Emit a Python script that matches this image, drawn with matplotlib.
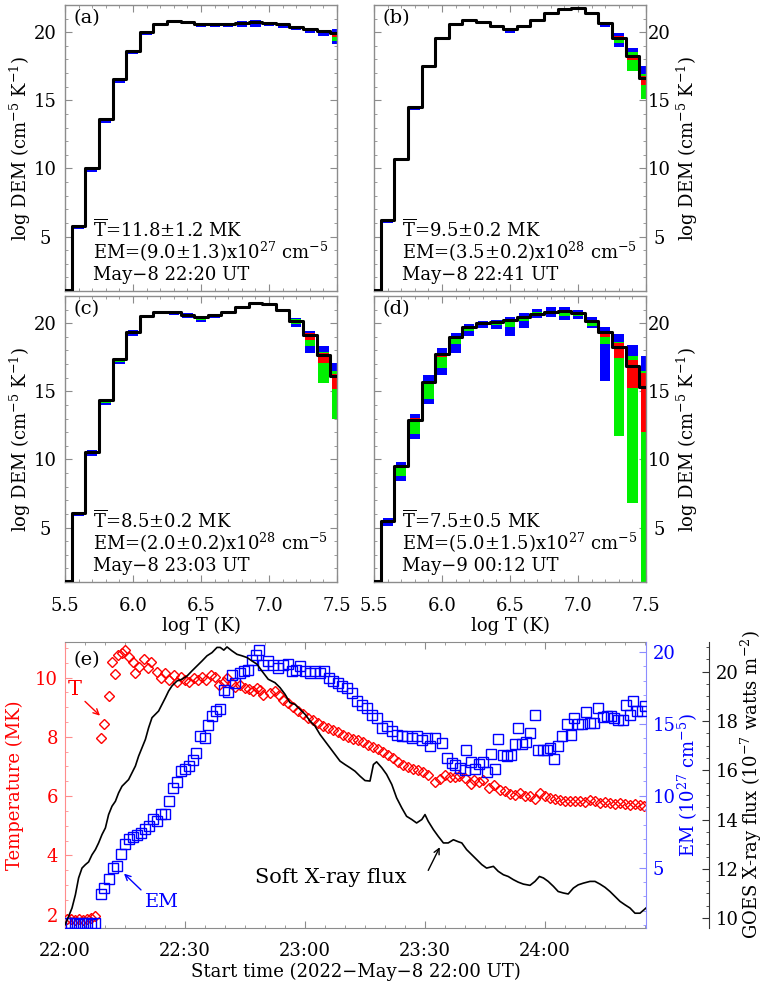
import numpy as np
import matplotlib
matplotlib.use('Agg')
import matplotlib.pyplot as plt
from matplotlib.ticker import MultipleLocator

plt.rcParams['font.family'] = ['DejaVu Serif']
plt.rcParams['mathtext.fontset'] = 'dejavuserif'

# ---------------- DEM panels (a)-(d) ----------------
logT = [5.5, 5.6, 5.7, 5.8, 5.9, 6.0, 6.1, 6.2, 6.3, 6.4, 6.5,
        6.6, 6.7, 6.8, 6.9, 7.0, 7.1, 7.2, 7.3, 7.4, 7.5]

# best-fit log DEM and the blue / green / red ranges (offsets from best fit)
dem_a = [1.05, 5.8, 10.0, 13.6, 16.6, 18.65, 20.0, 20.6, 20.8, 20.75, 20.62,
         20.57, 20.6, 20.66, 20.72, 20.68, 20.58, 20.38, 20.22, 20.12, 19.95]
blue_dn_a = [-0.3, -0.25, -0.25, -0.25, -0.3, -0.25, -0.2, -0.15, -0.15, -0.15, -0.2,
             -0.2, -0.25, -0.3, -0.3, -0.25, -0.25, -0.2, -0.25, -0.4, -0.85]
blue_up_a = [0.05, 0.05, 0.05, 0.05, 0.05, 0.05, 0.05, 0.05, 0.05, 0.05, 0.05,
             0.05, 0.1, 0.15, 0.15, 0.1, 0.05, 0.05, 0.05, 0.05, 0.3]
green_dn_a = [-0.1, -0.1, -0.1, -0.1, -0.1, -0.1, -0.1, -0.08, -0.08, -0.08, -0.1,
              -0.1, -0.12, -0.15, -0.15, -0.12, -0.1, -0.1, -0.12, -0.2, -0.6]
green_up_a = [0.0, 0.0, 0.0, 0.0, 0.0, 0.0, 0.0, 0.0, 0.0, 0.0, 0.0,
              0.0, 0.05, 0.05, 0.05, 0.05, 0.0, 0.0, 0.0, 0.0, 0.1]
red_dn_a = [-0.05, -0.05, -0.05, -0.05, -0.05, -0.05, -0.05, -0.05, -0.05, -0.05, -0.05,
            -0.05, -0.05, -0.05, -0.05, -0.05, -0.05, -0.05, -0.05, -0.08, -0.3]
red_up_a = [0.02, 0.02, 0.02, 0.02, 0.02, 0.02, 0.02, 0.02, 0.02, 0.02, 0.02,
            0.02, 0.02, 0.02, 0.02, 0.02, 0.02, 0.02, 0.02, 0.03, 0.1]

dem_b = [1.05, 6.19, 10.68, 14.51, 17.53, 19.58, 20.64, 20.89, 20.77, 20.49, 20.27,
         20.49, 20.89, 21.38, 21.68, 21.8, 21.43, 20.69, 19.6, 18.25, 16.61]
blue_dn_b = [-0.3, -0.2, -0.15, -0.2, -0.15, -0.15, -0.15, -0.15, -0.15, -0.2, -0.3,
             -0.2, -0.15, -0.15, -0.1, -0.1, -0.15, -0.34, -0.65, -0.25, 0.19]
blue_up_b = [0.05, 0.05, 0.05, 0.05, 0.05, 0.05, 0.05, 0.05, 0.05, 0.05, 0.05,
             0.05, 0.05, 0.05, 0.05, 0.05, 0.05, 0.06, 0.35, 0.6, 0.89]
green_dn_b = [-0.1, -0.1, -0.08, -0.1, -0.08, -0.08, -0.08, -0.08, -0.08, -0.1, -0.2,
              -0.1, -0.08, -0.08, -0.05, -0.05, -0.08, -0.19, -0.4, -1.1, -1.51]
green_up_b = [0.0, 0.0, 0.0, 0.0, 0.0, 0.0, 0.0, 0.0, 0.0, 0.0, 0.0,
              0.0, 0.0, 0.0, 0.0, 0.0, 0.0, 0.0, 0.05, 0.28, 0.29]
red_dn_b = [-0.05, -0.05, -0.05, -0.05, -0.05, -0.05, -0.05, -0.05, -0.05, -0.05, -0.05,
            -0.05, -0.05, -0.05, -0.05, -0.05, -0.05, -0.05, -0.1, -0.3, -0.46]
red_up_b = [0.02, 0.02, 0.02, 0.02, 0.02, 0.02, 0.02, 0.02, 0.02, 0.02, 0.02,
            0.02, 0.02, 0.02, 0.02, 0.02, 0.02, 0.02, 0.15, 0.1, 0.19]

dem_c = [1.05, 6.03, 10.57, 14.33, 17.34, 19.38, 20.54, 20.86, 20.79, 20.62, 20.47,
         20.62, 20.84, 21.2, 21.48, 21.4, 21.0, 20.15, 19.11, 17.7, 16.1]
blue_dn_c = [-0.3, -0.2, -0.3, -0.3, -0.3, -0.3, -0.15, -0.15, -0.15, -0.25, -0.35,
             -0.25, -0.15, -0.15, -0.15, -0.15, -0.15, -0.4, -1.31, -0.2, 0.3]
blue_up_c = [0.05, 0.05, 0.1, 0.1, 0.1, 0.1, 0.05, 0.05, 0.05, 0.1, 0.05,
             0.05, 0.05, 0.05, 0.05, 0.05, 0.05, 0.25, 0.34, 0.65, 0.96]
green_dn_c = [-0.1, -0.1, -0.15, -0.15, -0.15, -0.15, -0.08, -0.08, -0.08, -0.12, -0.2,
              -0.12, -0.08, -0.08, -0.08, -0.08, -0.08, -0.2, -0.81, -2.1, -3.1]
green_up_c = [0.0, 0.0, 0.0, 0.0, 0.0, 0.0, 0.0, 0.0, 0.0, 0.0, 0.0,
              0.0, 0.0, 0.0, 0.0, 0.0, 0.0, 0.15, -0.11, 0.2, 0.4]
red_dn_c = [-0.05, -0.05, -0.05, -0.05, -0.05, -0.05, -0.05, -0.05, -0.05, -0.05, -0.05,
            -0.05, -0.05, -0.05, -0.05, -0.05, -0.05, -0.05, -0.31, -0.65, -0.9]
red_up_c = [0.02, 0.02, 0.02, 0.02, 0.02, 0.02, 0.02, 0.02, 0.02, 0.02, 0.02,
            0.02, 0.02, 0.02, 0.02, 0.02, 0.02, 0.1, 0.14, 0.15, 0.2]

dem_d = [1.05, 5.49, 9.53, 12.87, 15.7, 17.71, 19.0, 19.75, 20.0, 20.12, 20.25,
         20.44, 20.69, 20.86, 20.93, 20.74, 20.17, 19.34, 18.28, 16.85, 15.33]
blue_dn_d = [-0.3, -0.39, -1.09, -1.4, -1.6, -1.52, -1.21, -0.68, -0.37, -0.56, -1.16,
             -0.81, -0.32, -0.37, -0.68, -0.44, -0.54, -3.57, -0.28, 0.74, 1.03]
blue_up_d = [0.05, 0.21, 0.27, 0.49, 0.49, 0.45, 0.31, 0.18, 0.2, 0.13, 0.24,
             0.3, 0.37, 0.3, 0.25, 0.24, 0.27, 0.41, 0.93, 1.55, 2.26]
green_dn_d = [-0.1, -0.19, -0.72, -0.97, -1.23, -1.03, -0.5, -0.35, -0.15, -0.22, -0.5,
              -0.24, -0.14, -0.16, -0.38, -0.19, -0.37, -0.84, -6.59, -10.08, -14.33]
green_up_d = [0.0, 0.06, -0.1, -0.12, -0.17, -0.17, -0.1, -0.05, 0.0, -0.02, -0.05,
              0.06, 0.11, 0.04, -0.03, 0.06, 0.08, -0.34, 0.32, 0.74, 1.17]
red_dn_d = [-0.05, -0.07, -0.1, -0.12, -0.17, -0.17, -0.1, -0.1, -0.05, -0.05, -0.1,
            -0.05, -0.05, -0.05, -0.05, -0.05, -0.05, -0.34, -0.86, -1.57, -3.33]
red_up_d = [0.02, 0.03, 0.02, 0.2, 0.07, 0.08, 0.05, 0.0, 0.02, 0.02, 0.0,
            0.02, 0.02, 0.02, 0.02, 0.02, 0.02, 0.06, 0.29, 0.45, 1.03]

text_a = [r'$\overline{\mathrm{T}}$=11.8±1.2 MK', r'EM=(9.0±1.3)x10$^{27}$ cm$^{-5}$', 'May−8 22:20 UT']
text_b = [r'$\overline{\mathrm{T}}$=9.5±0.2 MK', r'EM=(3.5±0.2)x10$^{28}$ cm$^{-5}$', 'May−8 22:41 UT']
text_c = [r'$\overline{\mathrm{T}}$=8.5±0.2 MK', r'EM=(2.0±0.2)x10$^{28}$ cm$^{-5}$', 'May−8 23:03 UT']
text_d = [r'$\overline{\mathrm{T}}$=7.5±0.5 MK', r'EM=(5.0±1.5)x10$^{27}$ cm$^{-5}$', 'May−9 00:12 UT']

# ---------------- panel (e) time series (minutes after 22:00 UT) ----------------
temp_t = [0.5, 1.5, 2.5, 3.5, 4.5, 5.5, 6.5, 7.5,
          9.0, 9.8, 10.9, 11.75, 12.6, 13.25, 14.25, 15.1, 15.9, 16.9,
          17.6, 18.6, 19.7, 20.75, 21.6, 23.0, 24.1, 25.1, 26.1, 27.2,
          28.0, 29.1, 30.1, 31.1, 32.2, 33.25, 34.25, 35.3, 36.5, 37.6,
          38.4, 39.7, 40.5, 41.75, 42.6, 43.8, 44.9, 45.9, 47.0, 48.0,
          48.8, 49.6, 51.25, 52.5, 53.5, 54.6, 55.8, 57.1, 58.3, 59.6,
          60.8, 62.1, 63.3, 64.6, 65.8, 67.1, 68.3, 69.6, 70.8, 72.1,
          73.3, 74.6, 75.8, 77.1, 78.3, 79.6, 80.8, 82.1, 83.3, 84.6,
          85.8, 87.1, 88.3, 89.6, 90.8, 92.5, 93.75, 95.0, 96.25, 97.5,
          98.6, 99.9, 101.4, 102.3, 103.6, 104.6, 106.1, 107.3, 108.75, 110.0,
          111.25, 112.5, 113.75, 115.0, 116.25, 117.5, 118.75, 120.0, 121.25, 122.5,
          123.75, 125.0, 126.25, 127.5, 128.75, 130.0, 131.25, 132.5, 133.75, 135.0,
          136.25, 137.5, 138.75, 140.0, 141.25, 142.5, 143.75, 144.75]
temp_mk = [1.84, 1.86, 1.83, 1.85, 1.82, 1.84, 1.9, 1.95,
           7.95, 8.43, 9.39, 10.54, 10.11, 10.77, 10.82, 10.94, 10.71, 10.54,
           10.15, 10.37, 10.63, 10.32, 10.52, 10.2, 9.98, 10.15, 9.92, 10.07,
           9.86, 10.03, 9.92, 9.86, 10.0, 9.92, 10.03, 9.92, 10.09, 10.03,
           9.75, 9.86, 9.98, 9.81, 9.69, 9.75, 9.66, 9.61, 9.55, 9.64,
           9.58, 9.41, 9.47, 9.55, 9.41, 9.24, 9.13, 9.02, 8.87, 8.76,
           8.62, 8.56, 8.48, 8.37, 8.3, 8.22, 8.15, 8.05, 8.0, 7.94,
           7.88, 7.83, 7.72, 7.66, 7.6, 7.49, 7.38, 7.29, 7.15, 7.06,
           6.98, 6.9, 6.87, 6.81, 6.7, 6.47, 6.59, 6.7, 6.64, 6.66,
           6.68, 6.61, 6.4, 6.53, 6.47, 6.53, 6.27, 6.36, 6.19, 6.16,
           6.08, 6.04, 6.11, 6.02, 6.0, 5.91, 6.11, 6.02, 5.93, 5.91,
           5.87, 5.85, 5.83, 5.82, 5.83, 5.8, 5.86, 5.82, 5.77, 5.8,
           5.77, 5.74, 5.77, 5.74, 5.7, 5.74, 5.7, 5.68]

em_t = [0.5, 1.5, 2.5, 3.5, 4.5, 5.5, 6.5, 7.5,
        9.0, 9.83, 10.9, 11.9, 12.9, 14.0, 14.9, 15.9, 16.9, 18.0,
        19.0, 20.1, 21.1, 21.9, 23.0, 24.0, 25.1, 25.9, 26.9, 28.0,
        29.0, 29.9, 30.9, 31.9, 32.8, 33.8, 34.9, 35.75, 36.75, 37.75,
        38.8, 39.8, 40.75, 41.75, 42.6, 43.7, 44.7, 45.7, 46.7, 47.75,
        48.6, 49.4, 50.8, 52.1, 53.3, 54.6, 55.7, 56.7, 57.7, 58.75,
        60.0, 61.25, 62.5, 63.75, 64.8, 66.0, 67.1, 68.3, 69.3, 70.4,
        71.7, 72.9, 74.2, 75.4, 76.7, 77.9, 79.2, 80.4, 81.7, 82.9,
        84.2, 85.4, 86.7, 87.9, 89.2, 90.4, 91.25, 92.5, 94.2, 95.4,
        96.7, 97.5, 98.75, 100.0, 100.25, 101.4, 102.5, 103.6, 104.6, 105.4,
        106.4, 107.5, 108.3, 109.4, 110.6, 111.4, 112.5, 113.3, 114.2, 115.25,
        116.25, 117.5, 118.3, 119.4, 120.4, 121.25, 122.3, 123.3, 124.3, 125.4,
        126.4, 127.25, 128.3, 129.3, 130.25, 131.25, 132.3, 133.3, 134.4, 135.4,
        136.4, 137.3, 138.3, 139.4, 140.25, 141.25, 142.1, 143.1, 144.2, 145.0]
em_27 = [1.15, 1.12, 1.15, 1.1, 1.13, 1.12, 1.1, 1.12,
         3.15, 3.56, 4.19, 5.0, 5.12, 5.93, 6.67, 6.97, 7.13, 7.27,
         7.43, 7.66, 7.9, 8.36, 8.24, 8.75, 8.7, 9.63, 10.56, 10.97,
         11.72, 11.83, 12.06, 12.52, 12.99, 14.15, 14.03, 14.91, 15.53, 15.92,
         16.06, 17.38, 17.22, 18.38, 17.85, 18.54, 18.7, 18.75, 19.44, 19.79,
         20.16, 19.12, 19.35, 19.12, 18.89, 19.12, 19.16, 18.66, 18.77, 19.0,
         18.66, 18.54, 18.66, 18.54, 18.7, 18.19, 17.96, 17.85, 17.62, 17.5,
         17.15, 16.58, 16.34, 16.11, 15.65, 15.42, 14.72, 14.84, 14.49, 14.26,
         14.15, 14.15, 14.03, 14.15, 13.91, 14.03, 13.45, 14.03, 13.68, 12.64,
         12.29, 12.17, 11.94, 11.76, 13.22, 12.36, 11.83, 12.22, 12.36, 11.64,
         12.92, 11.88, 13.98, 12.87, 12.75, 12.83, 13.61, 14.72, 13.61, 13.75,
         14.38, 15.6, 13.22, 13.22, 13.22, 13.33, 12.59, 13.45, 14.15, 15.0,
         14.26, 15.42, 15.0, 15.0, 15.83, 15.07, 15.07, 16.11, 15.46, 15.53,
         15.53, 15.42, 15.3, 15.3, 16.34, 15.65, 16.62, 15.88, 15.92, 16.23]

goes_t = [0.0, 0.9, 1.75, 2.6, 3.4, 4.25, 5.1, 5.9, 6.75, 7.6,
          8.4, 9.25, 10.1, 10.9, 11.75, 12.6, 13.4, 14.25, 15.1, 15.9,
          16.75, 17.6, 18.4, 19.25, 20.1, 20.9, 21.75, 22.6, 23.4, 24.25,
          25.1, 25.9, 26.75, 28.0, 29.25, 30.5, 31.75, 33.0, 34.25, 35.5,
          36.75, 38.0, 38.8, 39.7, 40.5, 41.75, 43.0, 44.25, 45.5, 46.75,
          48.0, 49.2, 50.8, 52.5, 53.75, 55.0, 56.25, 57.5, 58.75, 60.0,
          61.25, 62.5, 63.75, 65.0, 66.25, 67.5, 68.75, 70.0, 71.25, 72.5,
          73.75, 75.0, 76.25, 77.1, 77.9, 79.2, 80.4, 81.7, 82.9, 84.2,
          85.4, 86.7, 87.9, 89.2, 90.0, 90.8, 92.1, 93.3, 94.6, 95.8,
          97.1, 98.3, 99.2, 100.4, 101.7, 102.9, 104.2, 105.4, 107.1, 108.3,
          109.6, 110.8, 112.1, 113.3, 114.6, 116.25, 117.5, 118.6, 119.6, 120.8,
          122.1, 123.3, 124.6, 125.8, 127.1, 128.3, 129.6, 131.25, 132.5, 133.75,
          135.0, 136.25, 137.5, 138.75, 140.0, 141.25, 142.5, 143.75, 145.25]
goes_flux = [9.73, 10.07, 10.41, 10.95, 11.63, 12.03, 12.17, 12.28, 12.57, 12.78,
             13.05, 13.39, 13.66, 14.2, 14.54, 14.74, 15.08, 15.35, 15.49, 15.62,
             15.9, 16.17, 16.57, 16.91, 17.25, 17.72, 18.13, 18.27, 18.4, 18.67,
             18.94, 19.21, 19.42, 19.62, 19.69, 19.82, 20.03, 20.23, 20.43, 20.64,
             20.77, 20.98, 20.98, 20.87, 21.0, 20.84, 20.7, 20.64, 20.57, 20.43,
             20.3, 20.03, 19.69, 19.55, 19.35, 19.08, 18.74, 18.67, 18.47, 18.27,
             18.0, 17.79, 17.45, 17.18, 16.91, 16.64, 16.37, 16.23, 16.1, 15.96,
             15.76, 15.58, 15.56, 16.23, 16.34, 16.1, 15.83, 15.42, 14.88, 14.47,
             14.13, 14.0, 13.86, 14.0, 14.2, 13.93, 13.59, 13.32, 13.05, 13.05,
             13.18, 13.1, 13.05, 12.78, 12.57, 12.37, 12.17, 12.03, 12.1, 11.9,
             11.76, 11.69, 11.56, 11.46, 11.38, 11.33, 11.49, 11.69, 11.63, 11.49,
             11.29, 11.08, 11.02, 10.98, 11.22, 11.35, 11.42, 11.49, 11.49, 11.38,
             11.25, 11.08, 10.88, 10.68, 10.54, 10.41, 10.2, 10.2, 10.41]

time_ticks = [0, 30, 60, 90, 120]
time_labels = ['22:00', '22:30', '23:00', '23:30', '24:00']

W, H = 764.0, 984.0
FRAME = '#8c8c8c'
FS = 13


def box(l, t, r, b):
    return [l / W, 1 - b / H, (r - l) / W, (b - t) / H]


def dem_panel(ax, dem, bands, label, lines, right, bottom):
    dem = np.array(dem)
    for dn, up, col in bands:
        lo = dem + np.array(dn)
        hi = dem + np.array(up)
        ax.bar(logT, hi - lo, bottom=lo, width=0.075, color=col, linewidth=0, zorder=2)
    ax.step(logT, dem, where='mid', color='k', lw=2.2, zorder=3)
    ax.set_xlim(5.5, 7.5)
    ax.set_ylim(1, 22)
    ax.set_xticks([5.5, 6.0, 6.5, 7.0, 7.5])
    ax.set_xticklabels(['5.5', '6.0', '6.5', '7.0', '7.5'])
    ax.xaxis.set_minor_locator(MultipleLocator(0.1))
    ax.set_yticks([5, 10, 15, 20])
    ax.yaxis.set_minor_locator(MultipleLocator(1))
    for s in ax.spines.values():
        s.set_color(FRAME)
        s.set_linewidth(1.0)
    ax.tick_params(which='both', direction='in', top=True, bottom=True, left=True, right=True,
                   color=FRAME, labelsize=FS)
    ax.tick_params(which='major', length=5)
    ax.tick_params(which='minor', length=2.5)
    ax.tick_params(axis='x', pad=11, labelbottom=bottom)
    ylab = r'log DEM (cm$^{-5}$ K$^{-1}$)'
    if right:
        ax.tick_params(axis='y', labelleft=False, labelright=True, pad=9.4)
        ax.set_ylabel(ylab, fontsize=FS, rotation=90)
        ax.yaxis.set_label_position('right')
        ax.yaxis.set_label_coords(1.154, 0.5)
    else:
        ax.tick_params(axis='y', pad=14.4)
        ax.set_ylabel(ylab, fontsize=FS)
        ax.yaxis.set_label_coords(-0.165, 0.5)
    ax.yaxis.label.set_va('center')
    for lab in ax.get_yticklabels():
        lab.set_horizontalalignment('center')
    if bottom:
        ax.set_xlabel('log T (K)', fontsize=FS, va='center')
        ax.xaxis.set_label_coords(0.5, -0.152)
    ax.text(0.03, 0.955, label, transform=ax.transAxes, fontsize=14, va='center', ha='left')
    for y, s in zip([0.213, 0.136, 0.056], lines):
        ax.text(0.103, y, s, transform=ax.transAxes, fontsize=FS, va='center', ha='left')


BLUE, GREEN, RED = '#0000ff', '#00f000', '#ff0000'

fig = plt.figure(figsize=(7.64, 9.84), dpi=100)

ax_a = fig.add_axes(box(65, 5, 337, 291))
dem_panel(ax_a, dem_a, [(blue_dn_a, blue_up_a, BLUE), (green_dn_a, green_up_a, GREEN),
                        (red_dn_a, red_up_a, RED)], '(a)', text_a, False, False)
ax_b = fig.add_axes(box(374, 5, 646, 291))
dem_panel(ax_b, dem_b, [(blue_dn_b, blue_up_b, BLUE), (green_dn_b, green_up_b, GREEN),
                        (red_dn_b, red_up_b, RED)], '(b)', text_b, True, False)
ax_c = fig.add_axes(box(65, 296, 337, 582))
dem_panel(ax_c, dem_c, [(blue_dn_c, blue_up_c, BLUE), (green_dn_c, green_up_c, GREEN),
                        (red_dn_c, red_up_c, RED)], '(c)', text_c, False, True)
ax_d = fig.add_axes(box(374, 296, 646, 582))
dem_panel(ax_d, dem_d, [(blue_dn_d, blue_up_d, BLUE), (green_dn_d, green_up_d, GREEN),
                        (red_dn_d, red_up_d, RED)], '(d)', text_d, True, True)

# ---------------- panel (e) ----------------
ax = fig.add_axes(box(65, 642, 646, 928))
ax2 = ax.twinx()
ax3 = ax.twinx()

ax3.plot(goes_t, goes_flux, color='k', lw=1.2, zorder=2)
ax.plot(temp_t, temp_mk, ls='none', marker='D', ms=5.0, mfc='none', mec='red', mew=1.0, zorder=3)
ax2.plot(em_t, em_27, ls='none', marker='s', ms=6.6, mfc='none', mec='blue', mew=1.0, zorder=3)

ax.set_xlim(0, 145.25)
ax.set_ylim(1.55, 11.2)
ax2.set_ylim(0.8, 20.7)
ax3.set_ylim(9.6, 21.2)

ax.set_xticks(time_ticks)
ax.set_xticklabels(time_labels)
ax.xaxis.set_minor_locator(MultipleLocator(5))
ax.set_yticks([2, 4, 6, 8, 10])
ax.yaxis.set_minor_locator(MultipleLocator(0.5))
ax2.set_yticks([5, 10, 15, 20])
ax2.yaxis.set_minor_locator(MultipleLocator(1))
ax3.set_yticks([10, 12, 14, 16, 18, 20])
ax3.yaxis.set_minor_locator(MultipleLocator(0.5))

ax.spines['top'].set_color(FRAME)
ax.spines['bottom'].set_color(FRAME)
ax.spines['left'].set_color('#ff8c8c')
ax.spines['right'].set_visible(False)
for s in ['top', 'bottom', 'left']:
    ax2.spines[s].set_visible(False)
    ax3.spines[s].set_visible(False)
ax2.spines['right'].set_color('#8c8cff')
ax3.spines['right'].set_position(('axes', (709 - 65) / 581.0))
ax3.spines['right'].set_color('#333333')

ax.tick_params(axis='x', which='both', direction='in', top=True, bottom=True, color=FRAME,
               labelsize=FS, pad=10)
ax.tick_params(axis='y', which='both', direction='in', left=True, right=False, color='#ff8c8c',
               labelcolor='red', labelsize=FS, pad=5)
ax2.tick_params(axis='y', which='both', direction='in', color='#8c8cff', labelcolor='blue',
                labelsize=FS, pad=5)
ax3.tick_params(axis='y', which='both', direction='in', color='#333333', labelsize=FS, pad=5)
for a in (ax, ax2, ax3):
    a.tick_params(which='major', length=5)
    a.tick_params(which='minor', length=2.5)

ax.set_xlabel('Start time (2022−May−8 22:00 UT)', fontsize=FS, va='center')
ax.xaxis.set_label_coords(0.5, -0.154)
ax.set_ylabel('Temperature (MK)', color='red', fontsize=FS, va='center')
ax.yaxis.set_label_coords(-0.086, 0.5)
ax2.set_ylabel(r'EM (10$^{27}$ cm$^{-5}$)', color='blue', fontsize=FS, va='center')
ax2.yaxis.set_label_coords(1.072, 0.5)
ax3.set_ylabel(r'GOES X-ray flux (10$^{-7}$ watts m$^{-2}$)', fontsize=FS, va='center')
ax3.yaxis.set_label_coords(1.182, 0.5)

ax.text(0.014, 0.937, '(e)', transform=ax.transAxes, fontsize=14, va='center', ha='left')
ax.text(2.5, 9.6, 'T', color='red', fontsize=15, ha='center', va='center')
ax.annotate('', xy=(9.25, 8.65), xytext=(4.5, 9.26),
            arrowprops=dict(arrowstyle='->', color='red', lw=1.0))
ax.text(24.25, 2.43, 'EM', color='blue', fontsize=14, ha='center', va='center')
ax.annotate('', xy=(14.25, 3.45), xytext=(19.5, 2.77),
            arrowprops=dict(arrowstyle='->', color='blue', lw=1.0))
ax.text(47.5, 3.24, 'Soft X-ray flux', color='black', fontsize=15, ha='left', va='center')
ax.annotate('', xy=(94.0, 4.36), xytext=(90.5, 3.41),
            arrowprops=dict(arrowstyle='->', color='black', lw=1.0))

fig.savefig('out.png', dpi=100)
